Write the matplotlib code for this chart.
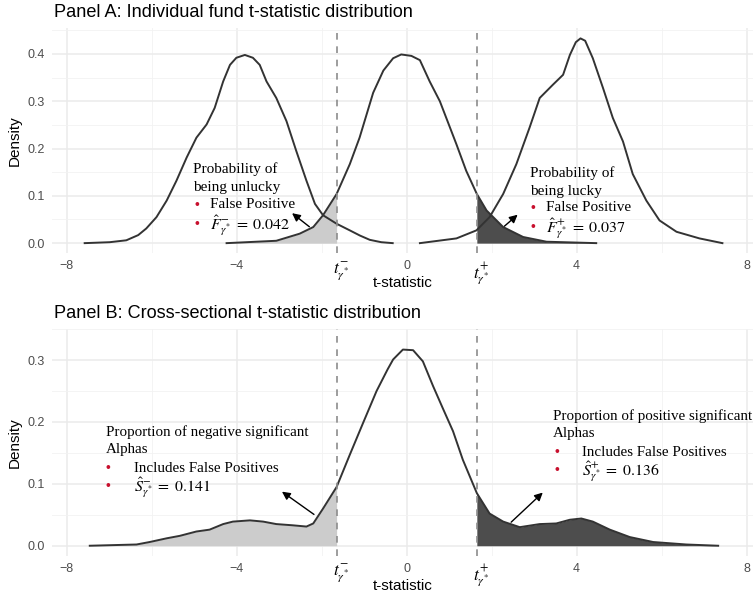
import numpy as np
import matplotlib.pyplot as plt
from matplotlib.transforms import blended_transform_factory

plt.rcParams['mathtext.fontset'] = 'stix'
plt.rcParams['font.family'] = ['Liberation Sans', 'DejaVu Sans']

# critical t values
t_minus = -1.65
t_plus = 1.65

# Panel A: individual fund distributions (left, null, right)
a_left_x = [-7.58, -6.99, -6.6, -6.32, -6.13, -5.89, -5.65, -5.42, -5.18, -4.95, -4.71, -4.52,
            -4.32, -4.16, -4.01, -3.81, -3.62, -3.46, -3.3, -3.07, -2.83, -2.6, -2.36, -2.16,
            -1.97, -1.65, -1.34, -1.1, -0.87, -0.6, -0.33]
a_left_y = [0.0, 0.002, 0.006, 0.017, 0.031, 0.055, 0.09, 0.132, 0.181, 0.223, 0.251, 0.286,
            0.342, 0.377, 0.392, 0.398, 0.392, 0.377, 0.342, 0.307, 0.258, 0.195, 0.132, 0.083,
            0.059, 0.041, 0.027, 0.016, 0.007, 0.002, 0.0]

a_mid_x = [-4.24, -3.07, -2.52, -2.2, -1.97, -1.65, -1.34, -1.11, -0.79, -0.55, -0.32, -0.13,
           0.11, 0.31, 0.54, 0.78, 0.93, 1.17, 1.4, 1.65, 1.88, 2.27, 2.74, 3.29, 4.46]
a_mid_y = [0.0, 0.005, 0.02, 0.034, 0.059, 0.104, 0.167, 0.223, 0.318, 0.365, 0.391, 0.399,
           0.396, 0.387, 0.342, 0.3, 0.265, 0.209, 0.153, 0.104, 0.069, 0.034, 0.013, 0.003, 0.0]

a_right_x = [0.31, 1.17, 1.64, 1.95, 2.27, 2.58, 2.89, 3.13, 3.44, 3.68, 3.84, 3.98, 4.09,
             4.2, 4.38, 4.62, 4.85, 5.09, 5.32, 5.64, 5.95, 6.35, 6.89, 7.43]
a_right_y = [0.0, 0.01, 0.027, 0.055, 0.104, 0.167, 0.244, 0.307, 0.335, 0.356, 0.398, 0.425,
             0.433, 0.428, 0.391, 0.328, 0.265, 0.215, 0.146, 0.09, 0.048, 0.024, 0.01, 0.0]

# Panel B: cross-sectional distribution
b_x = [-7.46, -6.36, -6.05, -5.65, -5.34, -4.95, -4.64, -4.32, -4.09, -3.69, -3.38, -3.07,
       -2.68, -2.36, -2.2, -1.97, -1.65, -1.34, -1.03, -0.71, -0.45, -0.32, -0.09, 0.15, 0.38,
       0.62, 0.85, 1.09, 1.32, 1.65, 1.95, 2.27, 2.66, 3.13, 3.52, 3.84, 4.11, 4.38, 4.78, 5.25,
       5.8, 6.58, 7.33]
b_y = [0.0, 0.002, 0.006, 0.012, 0.016, 0.023, 0.026, 0.035, 0.039, 0.041, 0.039, 0.035,
       0.033, 0.031, 0.036, 0.06, 0.095, 0.147, 0.198, 0.25, 0.285, 0.301, 0.317, 0.316, 0.298,
       0.258, 0.222, 0.185, 0.139, 0.085, 0.052, 0.039, 0.030, 0.035, 0.036, 0.042, 0.044, 0.039,
       0.026, 0.014, 0.006, 0.002, 0.0]

line_col = '#333333'
light = '#CCCCCC'
dark = '#4D4D4D'
red = '#C8102E'
serif = ['Liberation Serif', 'DejaVu Serif']

W, H = 753, 599
fig = plt.figure(figsize=(W / 100, H / 100), dpi=100)
axA = fig.add_axes([0.069, 0.577, 0.931, 0.376])
axB = fig.add_axes([0.069, 0.0725, 0.931, 0.378])


def fx(px):
    return px / W


def fy(py):
    return 1 - py / H


def style_axis(ax, ymax, yticks):
    ax.set_xlim(-8.35, 8.15)
    ax.set_ylim(-0.05 * ymax, ymax * 1.05)
    ax.set_xticks([-8, -4, 0, 4, 8])
    ax.set_xticks([-6, -2, 2, 6], minor=True)
    ax.set_yticks(yticks)
    ax.set_yticks([v + 0.05 for v in yticks], minor=True)
    ax.set_yticklabels([f'{v:.1f}' for v in yticks])
    ax.grid(which='major', color='#EBEBEB', lw=1.1)
    ax.grid(which='minor', color='#F2F2F2', lw=0.6)
    ax.set_axisbelow(True)
    ax.tick_params(which='both', length=0, labelsize=9, labelcolor='#4D4D4D', pad=5)
    for s in ax.spines.values():
        s.set_visible(False)
    ax.set_xlabel('t-statistic', fontsize=11, labelpad=3)
    ax.set_ylabel('Density', fontsize=11, labelpad=4)
    for t in (t_minus, t_plus):
        ax.axvline(t, color='#8C8C8C', lw=1.2, ls=(0, (4, 4)), zorder=4)
    trans = blended_transform_factory(ax.transData, ax.transAxes)
    ax.text(t_minus + 0.1, -0.03, r'$t^{-}_{\gamma^{*}}$', transform=trans, ha='center', va='top', fontsize=12.5)
    ax.text(t_plus + 0.1, -0.03, r'$t^{+}_{\gamma^{*}}$', transform=trans, ha='center', va='top', fontsize=12.5)


def note(x, ys, head, items, bx, tx, size=11):
    # ys: pixel centres of the 4 text rows
    for line, yy in zip(head, ys[:2]):
        fig.text(fx(x), fy(yy), line, fontsize=size, family=serif, va='center', ha='left', zorder=6)
    for item, yy in zip(items, ys[2:]):
        fig.text(fx(bx), fy(yy), '•', color=red, fontsize=10, va='center', ha='center', zorder=6)
        if item.startswith('$'):
            fig.text(fx(tx), fy(yy + 1.5), item, fontsize=size + 0.6, family=serif, va='center', ha='left', zorder=6)
        else:
            fig.text(fx(tx), fy(yy), item, fontsize=size, family=serif, va='center', ha='left', zorder=6)


# Panel A
a_mid_x_arr = np.array(a_mid_x)
a_mid_y_arr = np.array(a_mid_y)
axA.fill_between(a_mid_x_arr, a_mid_y_arr, where=a_mid_x_arr <= t_minus, color=light, lw=0, zorder=1)
axA.fill_between(a_mid_x_arr, a_mid_y_arr, where=a_mid_x_arr >= t_plus, color=dark, lw=0, zorder=1)
axA.plot(a_left_x, a_left_y, color=line_col, lw=1.4, zorder=3)
axA.plot(a_mid_x, a_mid_y, color=line_col, lw=1.4, zorder=3)
axA.plot(a_right_x, a_right_y, color=line_col, lw=1.4, zorder=3)
style_axis(axA, 0.433, [0.0, 0.1, 0.2, 0.3, 0.4])
fig.text(fx(54), fy(17), 'Panel A: Individual fund t-statistic distribution', fontsize=13.1, va='baseline')

# Panel B
b_x_arr = np.array(b_x)
b_y_arr = np.array(b_y)
axB.fill_between(b_x_arr, b_y_arr, where=b_x_arr <= t_minus, color=light, lw=0, zorder=1)
axB.fill_between(b_x_arr, b_y_arr, where=b_x_arr >= t_plus, color=dark, lw=0, zorder=1)
axB.plot(b_x, b_y, color=line_col, lw=1.4, zorder=3)
style_axis(axB, 0.318, [0.0, 0.1, 0.2, 0.3])
fig.text(fx(54), fy(318), 'Panel B: Cross-sectional t-statistic distribution', fontsize=13.1, va='baseline')

# annotations
note(193, [169, 187, 205, 224], ['Probability of', 'being unlucky'],
     ['False Positive', r'$\hat{F}^{-}_{\gamma^{*}}\;=\;0.042$'], 197, 210)
note(530, [173, 191, 208, 227], ['Probability of', 'being lucky'],
     ['False Positive', r'$\hat{F}^{+}_{\gamma^{*}}\;=\;0.037$'], 532.5, 546)
note(106, [432, 450, 468, 486], ['Proportion of negative significant', 'Alphas'],
     ['Includes False Positives', r'$\hat{S}^{-}_{\gamma^{*}}\;=\;0.141$'], 108, 134, size=10.8)
note(553, [416, 434, 452, 470], ['Proportion of positive significant', 'Alphas'],
     ['Includes False Positives', r'$\hat{S}^{+}_{\gamma^{*}}\;=\;0.136$'], 556.5, 582.5, size=10.8)

arrow = dict(arrowstyle='-|>', color='black', lw=1.0, mutation_scale=12)
axA.annotate('', xy=(-2.75, 0.067), xytext=(-2.24, 0.031), arrowprops=arrow, zorder=5)
axA.annotate('', xy=(2.66, 0.064), xytext=(2.25, 0.032), arrowprops=arrow, zorder=5)
axB.annotate('', xy=(-2.99, 0.090), xytext=(-2.13, 0.048), arrowprops=arrow, zorder=5)
axB.annotate('', xy=(3.25, 0.089), xytext=(2.41, 0.035), arrowprops=arrow, zorder=5)

fig.savefig('out.png', dpi=100)
